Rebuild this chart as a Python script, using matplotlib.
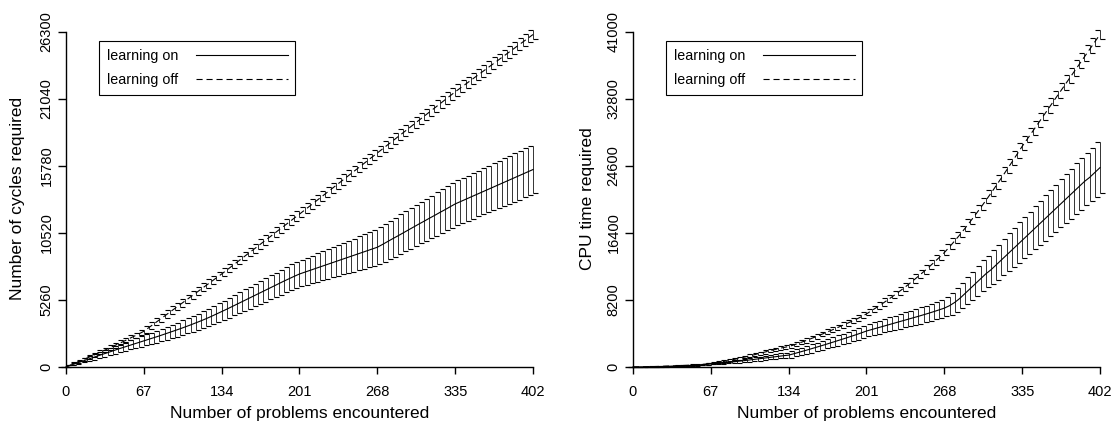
import numpy as np
import matplotlib.pyplot as plt
from matplotlib.path import Path
from matplotlib.lines import Line2D

plt.rcParams['font.family'] = ['Liberation Sans', 'DejaVu Sans']

# sampling points (number of problems encountered)
problems = np.linspace(0, 402, 91)
xticks = [0, 67, 134, 201, 268, 335, 402]

# left panel: number of cycles required
cycles_off = [0, 170, 340, 510, 690, 870, 1050, 1230, 1420, 1610, 1800, 1990, 2190, 2390, 2590, 2800,
              3100, 3400, 3700, 4000, 4300, 4600, 4900, 5200, 5500, 5800, 6100, 6400, 6700, 7000, 7300,
              7610, 7930, 8240, 8550, 8870, 9180, 9490, 9810, 10120, 10430, 10750, 11060, 11370, 11690, 12000,
              12320, 12640, 12960, 13280, 13600, 13920, 14240, 14560, 14880, 15200, 15520, 15840, 16160, 16480, 16800,
              17120, 17440, 17760, 18080, 18400, 18720, 19040, 19360, 19680, 20000, 20320, 20640, 20960, 21280, 21600,
              21900, 22200, 22500, 22800, 23100, 23400, 23700, 24000, 24300, 24600, 24900, 25200, 25500, 25800, 26100]
cycles_off_err = [0, 20, 30, 40, 50, 60, 70, 80, 85, 90, 95, 100, 105, 110, 115, 120,
                  125, 130, 135, 140, 145, 150, 155, 160, 165, 170, 170, 175, 175, 180, 180,
                  185, 185, 190, 190, 195, 195, 200, 200, 205, 205, 210, 210, 215, 215, 220,
                  225, 225, 230, 230, 235, 235, 240, 240, 245, 245, 250, 250, 255, 255, 260,
                  260, 265, 265, 270, 270, 275, 275, 280, 280, 280, 285, 285, 290, 290, 290,
                  295, 295, 300, 300, 300, 305, 305, 305, 310, 310, 310, 315, 315, 320, 320]
cycles_on = [0, 150, 290, 430, 570, 710, 850, 990, 1120, 1260, 1400, 1530, 1660, 1790, 1920, 2050,
             2180, 2310, 2440, 2580, 2720, 2860, 3000, 3150, 3300, 3460, 3620, 3790, 3970, 4160, 4350,
             4540, 4740, 4940, 5140, 5340, 5540, 5740, 5940, 6140, 6340, 6540, 6740, 6930, 7120, 7300,
             7440, 7580, 7720, 7860, 8000, 8140, 8280, 8420, 8560, 8700, 8840, 8980, 9120, 9260, 9400,
             9620, 9850, 10080, 10300, 10530, 10760, 10990, 11220, 11440, 11670, 11890, 12120, 12340, 12570, 12800,
             12980, 13160, 13340, 13520, 13700, 13880, 14060, 14240, 14420, 14600, 14780, 14960, 15140, 15320, 15500]
cycles_on_err = [0, 25, 50, 75, 100, 125, 150, 170, 190, 210, 230, 250, 275, 300, 325, 350,
                 370, 390, 410, 430, 450, 470, 490, 510, 530, 550, 570, 590, 610, 630, 650,
                 670, 690, 710, 730, 750, 770, 790, 810, 830, 850, 870, 890, 910, 930, 950,
                 975, 1000, 1030, 1055, 1080, 1110, 1135, 1160, 1190, 1215, 1240, 1270, 1295, 1320, 1350,
                 1370, 1390, 1410, 1430, 1450, 1470, 1490, 1510, 1530, 1550, 1570, 1590, 1610, 1630, 1650,
                 1665, 1680, 1690, 1705, 1720, 1735, 1750, 1760, 1775, 1790, 1800, 1815, 1825, 1840, 1850]
cycles_yticks = [0, 5260, 10520, 15780, 21040, 26300]

# right panel: CPU time required
cpu_off = [0, 10, 20, 35, 50, 70, 90, 110, 135, 160, 190, 220, 260, 300, 350, 400,
           500, 610, 730, 860, 1000, 1140, 1290, 1440, 1600, 1760, 1920, 2080, 2240, 2380, 2500,
           2700, 2920, 3150, 3390, 3640, 3900, 4160, 4430, 4700, 4980, 5260, 5540, 5830, 6150, 6500,
           6900, 7310, 7730, 8165, 8615, 9080, 9560, 10060, 10575, 11105, 11650, 12210, 12790, 13390, 14000,
           14700, 15430, 16190, 16980, 17800, 18640, 19500, 20380, 21280, 22200, 23140, 24090, 25050, 26020, 27000,
           27910, 28820, 29730, 30650, 31560, 32480, 33390, 34300, 35220, 36130, 37040, 37960, 38870, 39790, 40700]
cpu_off_err = [0, 5, 10, 15, 20, 25, 30, 35, 40, 45, 50, 52, 54, 56, 58, 60,
               66, 72, 78, 84, 90, 96, 102, 108, 114, 120, 126, 132, 138, 144, 150,
               153, 157, 160, 163, 167, 170, 173, 177, 180, 183, 187, 190, 193, 197, 200,
               207, 213, 220, 227, 233, 240, 247, 253, 260, 267, 273, 280, 287, 293, 300,
               307, 313, 320, 327, 333, 340, 347, 353, 360, 367, 373, 380, 387, 393, 400,
               407, 413, 420, 427, 433, 440, 447, 453, 460, 467, 473, 480, 487, 493, 500]
cpu_on = [0, 5, 12, 20, 30, 45, 60, 80, 100, 125, 150, 180, 215, 255, 310, 370,
          430, 490, 550, 610, 680, 750, 820, 900, 980, 1060, 1140, 1220, 1300, 1380, 1450,
          1620, 1800, 1980, 2160, 2350, 2540, 2730, 2930, 3130, 3330, 3530, 3740, 3950, 4170, 4400,
          4580, 4760, 4940, 5120, 5300, 5480, 5660, 5840, 6020, 6200, 6390, 6580, 6780, 6990, 7200,
          7500, 7900, 8400, 9000, 9600, 10200, 10800, 11400, 11900, 12500, 13100, 13700, 14300, 14900, 15500,
          16100, 16700, 17300, 17900, 18500, 19100, 19700, 20300, 20900, 21500, 22100, 22700, 23200, 23800, 24400]
cpu_on_err = [0, 2, 4, 6, 8, 10, 13, 16, 20, 25, 30, 35, 40, 45, 52, 60,
              75, 90, 105, 120, 135, 150, 165, 180, 195, 210, 225, 240, 255, 280, 300,
              325, 350, 375, 400, 420, 440, 465, 490, 515, 540, 560, 580, 605, 630, 650,
              675, 700, 720, 745, 770, 790, 815, 840, 860, 885, 910, 930, 955, 980, 1000,
              1080, 1160, 1240, 1320, 1400, 1480, 1560, 1640, 1720, 1800, 1880, 1960, 2040, 2120, 2200,
              2260, 2320, 2380, 2440, 2500, 2560, 2620, 2680, 2730, 2780, 2830, 2880, 2940, 3000, 3100]
cpu_yticks = [0, 8200, 16400, 24600, 32800, 41000]

# one-sided error bar caps: top cap to the left, bottom cap to the right
cap_left = Path([(-1, 0), (0, 0)], [Path.MOVETO, Path.LINETO])
cap_right = Path([(0, 0), (1, 0)], [Path.MOVETO, Path.LINETO])
DASH = (0, (5.5, 3.5))


def draw_errs(ax, y, err):
    y = np.array(y, float)
    err = np.array(err, float)
    ax.vlines(problems, y - err, y + err, color='#333333', lw=0.7, clip_on=False)
    ax.plot(problems, y + err, ls='none', marker=cap_left, ms=7.5, mew=0.8, color='black', clip_on=False)
    ax.plot(problems, y - err, ls='none', marker=cap_right, ms=7.5, mew=0.8, color='black', clip_on=False)


def draw_panel(ax, on, on_err, off, off_err, yticks, ylabel):
    top = yticks[-1]
    ax.set_xlim(-16, 410)
    ax.set_ylim(-0.038 * top, 1.0456 * top)
    draw_errs(ax, off, off_err)
    draw_errs(ax, on, on_err)
    ax.plot(problems, off, color='black', lw=0.8, ls=DASH, clip_on=False)
    ax.plot(problems, on, color='black', lw=0.8, clip_on=False)

    for s in ['top', 'right']:
        ax.spines[s].set_visible(False)
    ax.spines['left'].set_position(('data', 0))
    ax.spines['bottom'].set_position(('data', 0))
    ax.spines['left'].set_bounds(0, top)
    ax.spines['bottom'].set_bounds(0, 402)
    for s in ['left', 'bottom']:
        ax.spines[s].set_linewidth(1.0)

    ax.set_xticks(xticks)
    ax.set_xticklabels([str(v) for v in xticks])
    ax.set_yticks(yticks)
    ax.set_yticklabels([str(v) for v in yticks], rotation=90, va='center')
    ax.tick_params(axis='x', direction='out', length=5, width=1.0, pad=8, labelsize=10.5)
    ax.tick_params(axis='y', direction='out', length=5.5, width=1.0, pad=3.5, labelsize=10.5)

    ax.set_xlabel('Number of problems encountered', fontsize=12.5)
    ax.xaxis.set_label_coords(0.51, -0.072)
    ax.set_ylabel(ylabel, fontsize=12.5)

    handles = [Line2D([], [], color='black', lw=0.8),
               Line2D([], [], color='black', lw=0.8, ls=DASH)]
    leg = ax.legend(handles, ['learning on', 'learning off'], loc='upper left',
                    bbox_to_anchor=(0.104, 0.933), markerfirst=False, fontsize=10.3,
                    handlelength=6.4, handletextpad=1.25, labelspacing=0.72,
                    borderpad=0.55, fancybox=False, framealpha=1, borderaxespad=0)
    leg.get_frame().set_edgecolor('black')
    leg.get_frame().set_linewidth(0.8)


fig = plt.figure(figsize=(11.11, 4.26), dpi=100)
W, H = 1111.0, 426.0
ax1 = fig.add_axes([47.4 / W, (426 - 379.7) / H, 494.9 / W, 363.0 / H])
ax2 = fig.add_axes([614.4 / W, (426 - 379.7) / H, 494.9 / W, 363.0 / H])

draw_panel(ax1, cycles_on, cycles_on_err, cycles_off, cycles_off_err, cycles_yticks,
           'Number of cycles required')
draw_panel(ax2, cpu_on, cpu_on_err, cpu_off, cpu_off_err, cpu_yticks, 'CPU time required')
ax1.yaxis.set_label_coords(-0.045, 0.5)
ax2.yaxis.set_label_coords(-0.04, 0.5)

fig.savefig('out.png', dpi=100)
